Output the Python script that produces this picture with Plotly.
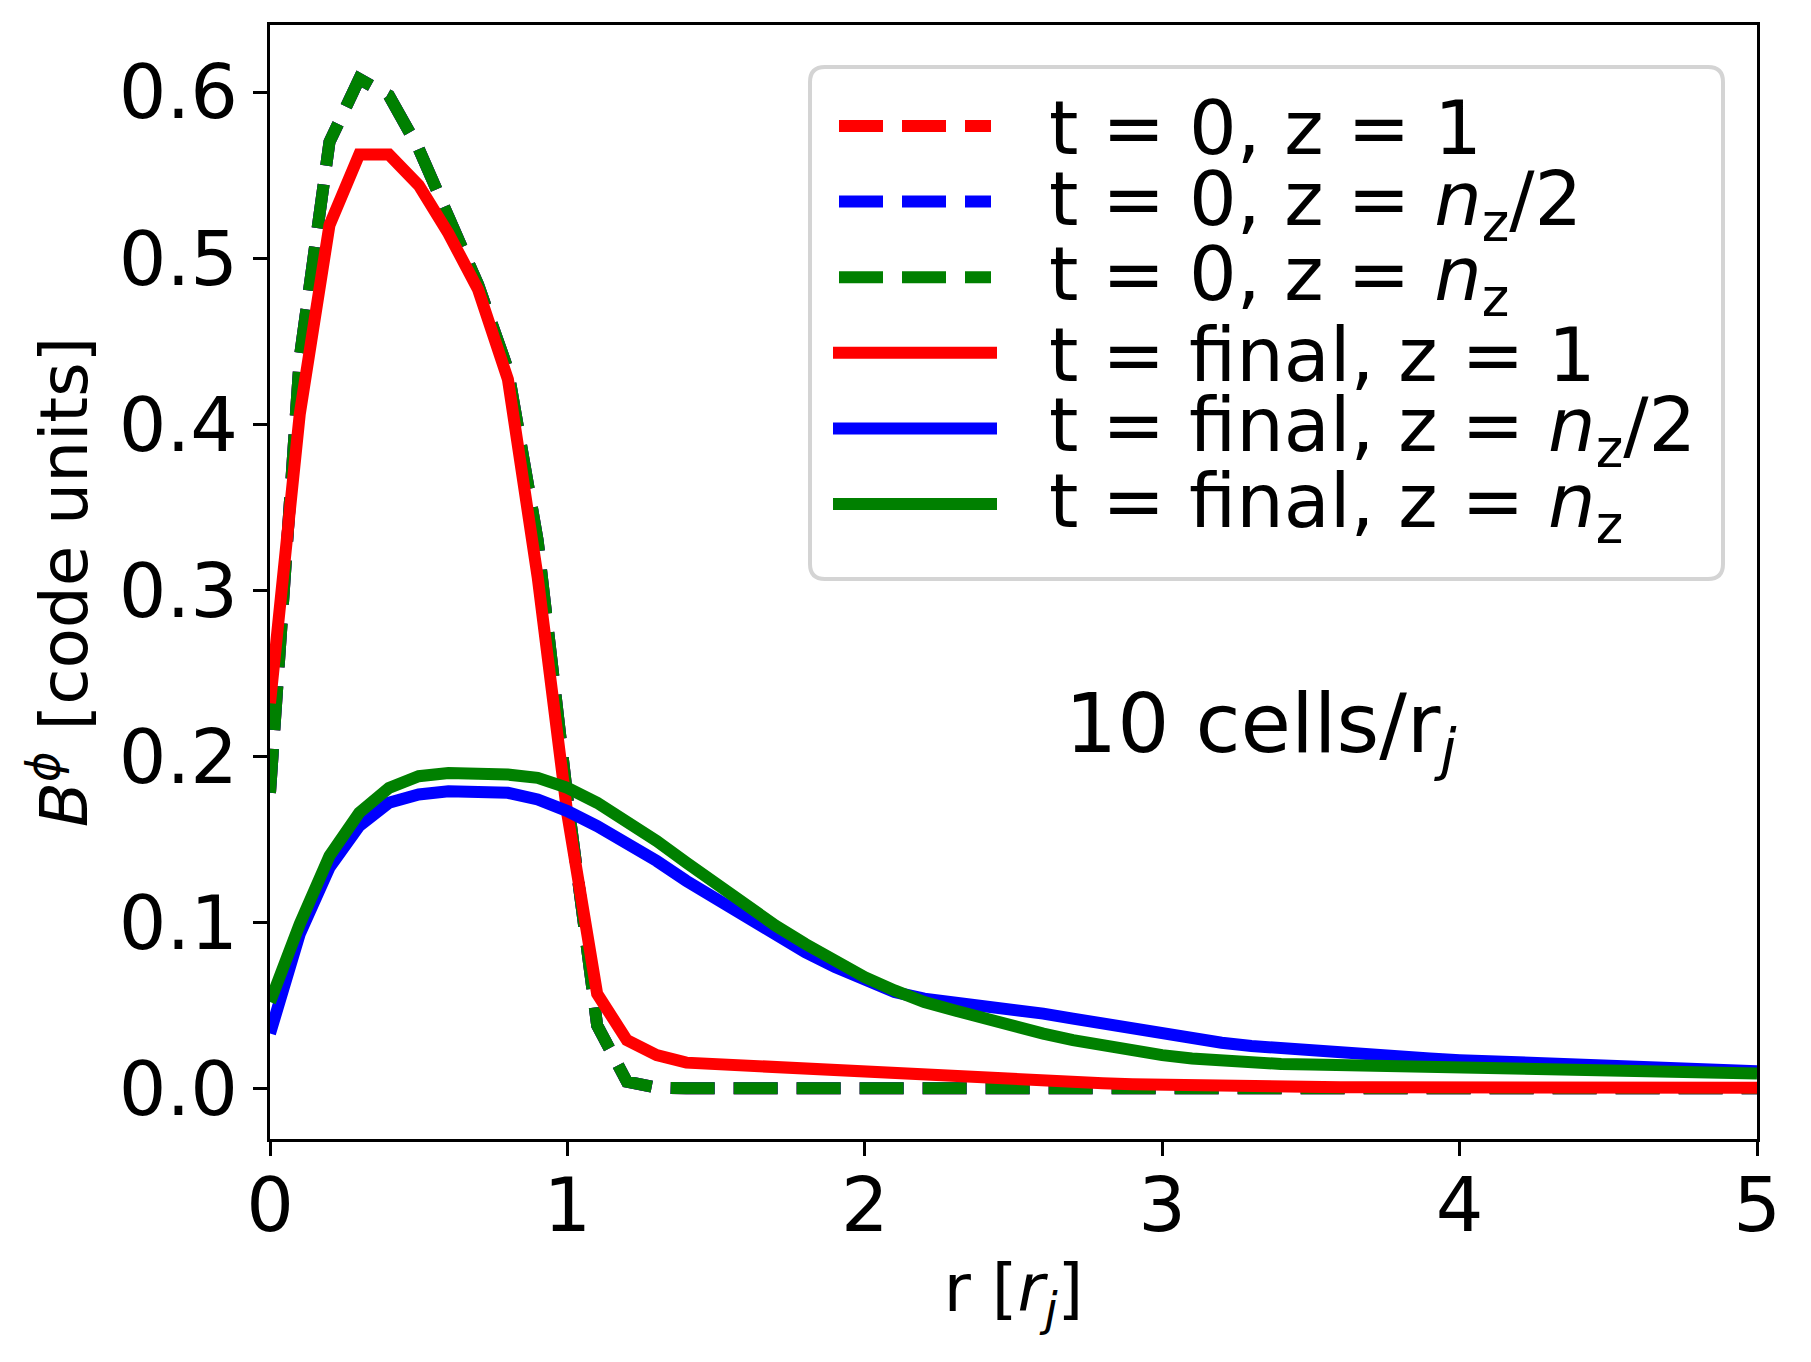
import plotly.graph_objects as go

# radial grid, 10 cells per r_j
r = [0.0, 0.1, 0.2, 0.3, 0.4, 0.5, 0.6, 0.7, 0.8, 0.9,
     1.0, 1.1, 1.2, 1.3, 1.4, 1.5, 1.6, 1.7, 1.8, 1.9,
     2.0, 2.1, 2.2, 2.3, 2.4, 2.5, 2.6, 2.7, 2.8, 2.9,
     3.0, 3.1, 3.2, 3.3, 3.4, 3.5, 3.6, 3.7, 3.8, 3.9,
     4.0, 4.1, 4.2, 4.3, 4.4, 4.5, 4.6, 4.7, 4.8, 4.9, 5.0]

# initial profile (same at every z)
b_t0 = [0.178, 0.44, 0.57, 0.608, 0.598, 0.566, 0.525, 0.484, 0.433, 0.33,
        0.175, 0.038, 0.004, 0.0005, 0.0, 0.0, 0.0, 0.0, 0.0, 0.0,
        0.0, 0.0, 0.0, 0.0, 0.0, 0.0, 0.0, 0.0, 0.0, 0.0,
        0.0, 0.0, 0.0, 0.0, 0.0, 0.0, 0.0, 0.0, 0.0, 0.0,
        0.0, 0.0, 0.0, 0.0, 0.0, 0.0, 0.0, 0.0, 0.0, 0.0, 0.0]

b_final_z1 = [0.232, 0.406, 0.52, 0.5625, 0.5625, 0.544, 0.515, 0.481, 0.427, 0.308,
              0.165, 0.057, 0.029, 0.020, 0.0155, 0.0145, 0.014, 0.0135, 0.0125, 0.0115,
              0.0105, 0.0095, 0.0085, 0.0075, 0.0065, 0.0055, 0.0046, 0.0038, 0.0031, 0.0025,
              0.002, 0.0016, 0.0013, 0.0011, 0.0009, 0.0008, 0.0007, 0.0007, 0.0006, 0.0006,
              0.0006, 0.0005, 0.0005, 0.0005, 0.0005, 0.0005, 0.0005, 0.0004, 0.0004, 0.0004, 0.0004]

b_final_half = [0.033, 0.093, 0.133, 0.158, 0.172, 0.177, 0.179, 0.179, 0.178, 0.174,
                0.167, 0.158, 0.148, 0.137, 0.125, 0.114, 0.103, 0.092, 0.082, 0.073,
                0.065, 0.058, 0.054, 0.052, 0.050, 0.0475, 0.045, 0.042, 0.039, 0.0355,
                0.032, 0.0295, 0.0275, 0.0255, 0.024, 0.023, 0.0215, 0.0203, 0.019, 0.018,
                0.017, 0.0163, 0.0156, 0.015, 0.0143, 0.0137, 0.013, 0.0123, 0.0116, 0.011, 0.0103]

b_final_nz = [0.052, 0.099, 0.140, 0.166, 0.181, 0.188, 0.190, 0.190, 0.189, 0.187,
              0.181, 0.172, 0.161, 0.149, 0.136, 0.123, 0.110, 0.098, 0.087, 0.076,
              0.067, 0.059, 0.052, 0.047, 0.042, 0.0375, 0.033, 0.029, 0.0255, 0.0225,
              0.020, 0.018, 0.0165, 0.0152, 0.0147, 0.0143, 0.0139, 0.0136, 0.0133, 0.013,
              0.0127, 0.0123, 0.012, 0.0116, 0.0113, 0.011, 0.0106, 0.0102, 0.0098, 0.0094, 0.009]

labels = ["t = 0, z = 1",
          "t = 0, z = <i>n</i><sub>z</sub>/2",
          "t = 0, z = <i>n</i><sub>z</sub>",
          "t = final, z = 1",
          "t = final, z = <i>n</i><sub>z</sub>/2",
          "t = final, z = <i>n</i><sub>z</sub>"]
colors = ["#ff0000", "#0000ff", "#008000", "#ff0000", "#0000ff", "#008000"]
dashes = ["44px,19px"] * 3 + ["solid"] * 3
series = [b_t0, b_t0, b_t0, b_final_z1, b_final_half, b_final_nz]

# the page body has an 8px margin, so the figure is 8px smaller and shifted
OFF = 8
W, H = 1811 - OFF, 1362 - OFF
ML, MR, MT, MB = 270 - OFF, 54, 25 - OFF, 223
FONT = "DejaVu Sans"
LW = 12

fig = go.Figure()
for ys, c, d, lab in zip(series, colors, dashes, labels):
    fig.add_trace(go.Scatter(x=r, y=ys, mode="lines", name=lab,
                             line=dict(color=c, width=LW, dash=d)))


# screen pixel -> paper helpers for the hand-made legend
def px(xp):
    return (xp - OFF - ML) / (W - ML - MR)


def py(yp):
    return 1 - (yp - OFF - MT) / (H - MT - MB)


shapes = []
annotations = []

# legend frame with rounded corners
x0, x1, y0, y1, rad = 810, 1723, 67, 579, 15
path = (f"M {px(x0 + rad)},{py(y0)} L {px(x1 - rad)},{py(y0)} "
        f"Q {px(x1)},{py(y0)} {px(x1)},{py(y0 + rad)} "
        f"L {px(x1)},{py(y1 - rad)} Q {px(x1)},{py(y1)} {px(x1 - rad)},{py(y1)} "
        f"L {px(x0 + rad)},{py(y1)} Q {px(x0)},{py(y1)} {px(x0)},{py(y1 - rad)} "
        f"L {px(x0)},{py(y0 + rad)} Q {px(x0)},{py(y0)} {px(x0 + rad)},{py(y0)} Z")
shapes.append(dict(type="path", path=path, xref="paper", yref="paper",
                   fillcolor="white", line=dict(color="#d4d4d4", width=4),
                   layer="above"))

row0, row_gap = 126, 75.6
for i, (lab, c, d) in enumerate(zip(labels, colors, dashes)):
    yc = row0 + i * row_gap
    if d == "solid":
        lx0, lx1 = 833, 997
    else:
        lx0, lx1 = 839, 991
    shapes.append(dict(type="line", xref="paper", yref="paper",
                       x0=px(lx0), x1=px(lx1), y0=py(yc), y1=py(yc),
                       line=dict(color=c, width=LW, dash=d), layer="above"))
    annotations.append(dict(text=lab, xref="paper", yref="paper",
                            x=px(1047), y=py(yc + 2), xanchor="left", yanchor="middle",
                            showarrow=False, font=dict(family=FONT, size=75, color="black")))

annotations.append(dict(text="10 cells/r<sub><i>j</i></sub>", x=2.665, y=0.216,
                        xref="x", yref="y", xanchor="left", yanchor="middle",
                        showarrow=False, font=dict(family=FONT, size=82, color="black")))

axis_common = dict(showline=True, linecolor="black", linewidth=3, mirror=True,
                   ticks="outside", ticklen=14, tickwidth=3, tickcolor="black",
                   showgrid=False, zeroline=False,
                   tickfont=dict(family=FONT, size=75, color="black"))

fig.update_layout(
    width=W, height=H,
    margin=dict(l=ML, r=MR, t=MT, b=MB),
    paper_bgcolor="white", plot_bgcolor="white",
    showlegend=False,
    shapes=shapes,
    annotations=annotations,
    xaxis=dict(range=[0, 5], tickvals=[0, 1, 2, 3, 4, 5], ticklabelstandoff=-15,
               title=dict(text="r [<i>r</i><sub><i>j</i></sub>]", standoff=17,
                          font=dict(family=FONT, size=66, color="black")),
               **axis_common),
    yaxis=dict(range=[-0.0305, 0.6405], tickvals=[0, 0.1, 0.2, 0.3, 0.4, 0.5, 0.6],
               tickformat=".1f",
               title=dict(text="<i>B</i><sup><i>ϕ</i></sup> [code units]", standoff=10,
                          font=dict(family=FONT, size=66, color="black")),
               **axis_common),
)

fig.write_html("out.html")
